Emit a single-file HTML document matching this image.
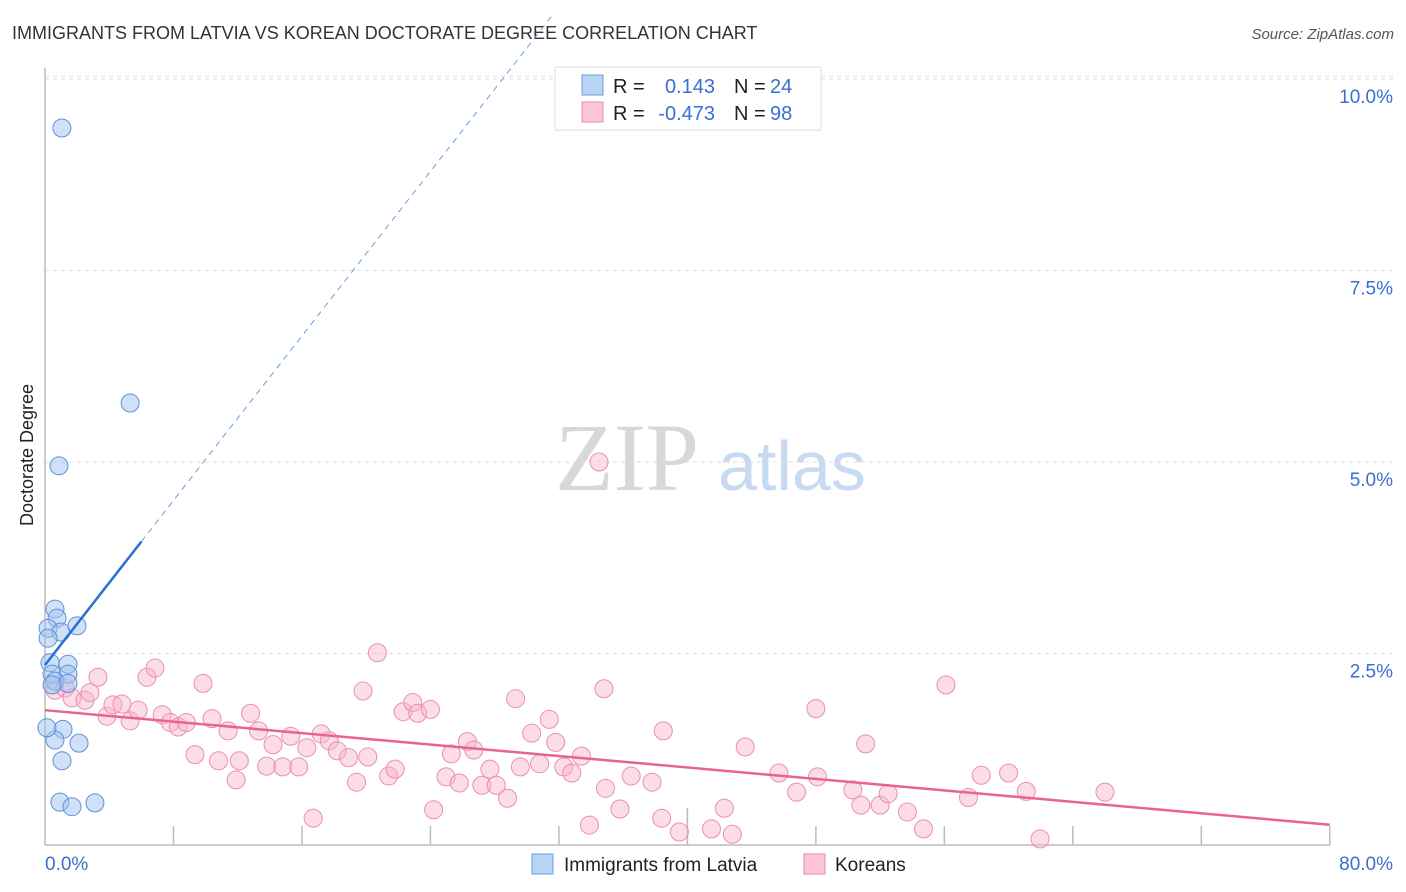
<!DOCTYPE html>
<html><head><meta charset="utf-8">
<style>
body{margin:0;background:#fff;font-family:"Liberation Sans",sans-serif;}
#wrap{position:relative;width:1406px;height:892px;overflow:hidden;}
</style></head>
<body>
<div id="wrap">
<svg id="svg" width="1406" height="892" xmlns="http://www.w3.org/2000/svg">
<text x="12" y="39" font-size="18" fill="#333">IMMIGRANTS FROM LATVIA VS KOREAN DOCTORATE DEGREE CORRELATION CHART</text>
<text x="1394" y="39" font-size="15" fill="#555" font-style="italic" text-anchor="end">Source: ZipAtlas.com</text>
<text x="555" y="490" font-size="96" fill="#d8d8d8" font-family="Liberation Serif,serif">ZIP</text>
<text x="718" y="490" font-size="70" fill="#c8daf2">atlas</text>
<text transform="translate(33,455) rotate(-90)" font-size="18" fill="#222" text-anchor="middle">Doctorate Degree</text>
<g id="grid"></g><g id="axes"></g><g id="pts"></g><g id="trends"></g>
<g>
<rect x="555" y="67" width="266" height="63" fill="#fff" stroke="#ddd"/>
<rect x="582" y="75" width="21" height="20" fill="#b9d3f5" stroke="#6a9de0"/>
<rect x="582" y="102" width="21" height="20" fill="#fbc5d5" stroke="#e98aa8"/>
<text x="613" y="93" font-size="20" fill="#222">R =</text>
<text x="715" y="93" font-size="20" fill="#3a6fd0" text-anchor="end">0.143</text>
<text x="734" y="93" font-size="20" fill="#222">N =</text>
<text x="770" y="93" font-size="20" fill="#3a6fd0">24</text>
<text x="613" y="120" font-size="20" fill="#222">R =</text>
<text x="715" y="120" font-size="20" fill="#3a6fd0" text-anchor="end">-0.473</text>
<text x="734" y="120" font-size="20" fill="#222">N =</text>
<text x="770" y="120" font-size="20" fill="#3a6fd0">98</text>
</g>
<g>
<rect x="532" y="854" width="21" height="20" fill="#b9d3f5" stroke="#6a9de0"/>
<text x="564" y="871" font-size="19" fill="#222">Immigrants from Latvia</text>
<rect x="804" y="854" width="21" height="20" fill="#fbc5d5" stroke="#e98aa8"/>
<text x="835" y="871" font-size="19" fill="#222">Koreans</text>
</g>
</svg>
</div>
<script>
const yTicks=[2.5,5.0,7.5,10.0];
const yTickLabels=["2.5%","5.0%","7.5%","10.0%"];
const xTicks=[0,8,16,24,32,40,48,56,64,72,80];
const latviaX=[1.05,5.3,0.87,0.62,0.75,0.19,0.99,1.99,0.19,0.31,1.43,0.44,1.43,0.62,1.43,0.44,1.12,0.62,2.12,1.06,0.93,1.68,3.11,0.12];
const latviaY=[9.36,5.77,4.95,3.08,2.96,2.83,2.78,2.86,2.70,2.38,2.36,2.23,2.23,2.14,2.11,2.09,1.51,1.37,1.33,1.10,0.56,0.50,0.55,1.53];
const koreaX=[0.62,1.25,1.68,2.49,2.8,3.3,3.86,4.23,4.79,5.3,5.8,6.35,6.85,7.3,7.8,8.3,8.8,9.34,9.84,10.4,10.8,11.4,11.9,12.1,12.8,13.3,13.8,14.2,14.8,15.3,15.8,16.3,16.7,17.2,17.7,18.2,18.9,19.4,19.8,20.1,20.7,21.4,21.8,22.3,22.9,23.2,24.0,24.2,24.97,25.3,25.8,26.3,26.7,27.2,27.7,28.1,28.8,29.3,29.6,30.3,30.8,31.4,31.8,32.3,32.8,33.4,33.9,34.5,34.8,34.9,35.8,36.5,37.8,38.4,38.5,39.5,41.5,42.3,42.8,43.6,45.7,46.8,48.0,48.1,50.3,50.8,51.1,52.0,52.5,53.7,54.7,56.1,57.5,58.3,60.0,61.1,61.96,66.0];
const koreaY=[2.02,2.05,1.92,1.89,1.99,2.19,1.68,1.83,1.84,1.62,1.76,2.19,2.31,1.70,1.60,1.54,1.60,1.18,2.11,1.65,1.10,1.49,0.85,1.10,1.72,1.49,1.03,1.31,1.02,1.42,1.02,1.27,0.35,1.45,1.36,1.23,1.14,0.82,2.01,1.15,2.51,0.90,0.99,1.74,1.86,1.72,1.77,0.46,0.89,1.19,0.81,1.35,1.24,0.78,0.99,0.78,0.61,1.91,1.02,1.46,1.06,1.64,1.34,1.02,0.94,1.16,0.26,5.0,2.04,0.74,0.47,0.90,0.82,0.35,1.49,0.17,0.21,0.48,0.14,1.28,0.94,0.69,1.78,0.89,0.72,0.52,1.32,0.52,0.67,0.43,0.21,2.09,0.62,0.91,0.94,0.70,0.08,0.69];
const NS="http://www.w3.org/2000/svg";
const X=v=>45+v*16.06, Y=v=>845-v*76.6;
function mk(tag,attrs,parent){const e=document.createElementNS(NS,tag);for(const k in attrs)e.setAttribute(k,attrs[k]);document.getElementById(parent).appendChild(e);return e;}
mk('line',{x1:45,y1:Y(10.0)-3,x2:1395,y2:Y(10.0)-3,stroke:'#ddd','stroke-dasharray':'4,4'},'grid');
yTicks.forEach((t,i)=>{
 const g=mk('line',{x1:45,y1:Y(t),x2:1395,y2:Y(t),stroke:'#ddd','stroke-dasharray':'4,4'},'grid');
 
 
 const tx=mk('text',{x:1393,y:Y(t)+24,'font-size':19,fill:'#3a6fd0','text-anchor':'end'},'axes');
 tx.textContent=yTickLabels[i];
 
 
});
mk('line',{x1:45,y1:68,x2:45,y2:845,stroke:'#bbb','stroke-width':1.5},'axes');
mk('line',{x1:45,y1:845,x2:1330,y2:845,stroke:'#bbb','stroke-width':1.5},'axes');
xTicks.forEach((t,i)=>{
 if(i==0)return;
 const l=mk('line',{x1:X(t),y1:(t==40?808:826),x2:X(t),y2:845,stroke:'#bbb','stroke-width':1.5},'axes');
 
 
});
const xl0=mk('text',{x:45,y:870,'font-size':19,fill:'#3a6fd0'},'axes');xl0.textContent='0.0%';


const xl1=mk('text',{x:1393,y:870,'font-size':19,fill:'#3a6fd0','text-anchor':'end'},'axes');xl1.textContent='80.0%';


koreaX.forEach((v,i)=>{
 const c=mk('circle',{cx:X(v),cy:Y(koreaY[i]),r:9,fill:'rgba(248,180,202,0.45)',stroke:'#e990ad','stroke-width':1},'pts');
 
 
});
latviaX.forEach((v,i)=>{
 const c=mk('circle',{cx:X(v),cy:Y(latviaY[i]),r:9,fill:'rgba(160,195,240,0.5)',stroke:'#5f8fd8','stroke-width':1},'pts');
 
 
});
// trends
const bA=2.35,bB=0.2685;
const t1=mk('line',{x1:X(0),y1:Y(bA),x2:X(6),y2:Y(bA+bB*6),stroke:'#2a6fd6','stroke-width':2.5},'trends');


const t2=mk('line',{x1:X(6),y1:Y(bA+bB*6),x2:X(31.7),y2:Y(bA+bB*31.7),stroke:'#6a9de0','stroke-width':1,'stroke-dasharray':'6,5'},'trends');


const kA=1.76,kB=-0.0187;
const t3=mk('line',{x1:X(0),y1:Y(kA),x2:X(80),y2:Y(kA+kB*80),stroke:'#e8648f','stroke-width':2.5},'trends');


</script>
</body></html>
